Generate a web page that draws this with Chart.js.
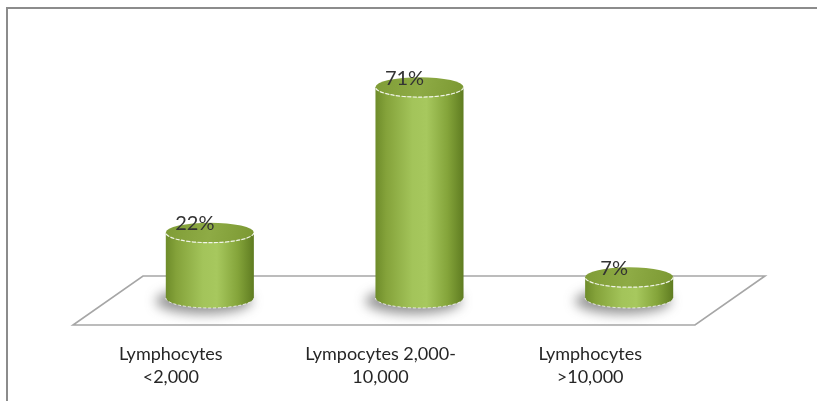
<!DOCTYPE html>
<html>
<head>
<meta charset="utf-8">
<script src="https://cdn.jsdelivr.net/npm/chart.js@4.4.1/dist/chart.umd.min.js"></script>
<style>
  html, body { margin: 0; padding: 0; background: #ffffff; }
  #wrap { width: 817px; height: 401px; }
</style>
</head>
<body>
<div id="wrap"><canvas id="chart" width="817" height="401"></canvas></div>
<script>
// Lymphocyte count groups and their share of patients (%)
const categories = [
  ['Lymphocytes', '<2,000'],
  ['Lympocytes 2,000-', '10,000'],
  ['Lymphocytes', '>10,000']
];
const percentages = [22, 71, 7];
const valueLabels = ['22%', '71%', '7%'];

// Oblique 3D look: the floor recedes up and to the right
const DEPTH_X = 70, DEPTH_Y = 49;     // full floor depth offset
const BASE_X = 39, BASE_Y = 27;       // where the cylinders stand on the floor
const CAP_RY = 10;                    // vertical radius of the cylinder ellipses
const FLOOR_INSET = 7;

const framePlugin = {
  id: 'frame',
  beforeDraw(chart) {
    const ctx = chart.ctx;
    ctx.save();
    ctx.strokeStyle = '#8c8c8c';
    ctx.lineWidth = 2;
    ctx.beginPath();
    ctx.moveTo(7, chart.height);
    ctx.lineTo(7, 8);
    ctx.lineTo(chart.width, 8);
    ctx.stroke();
    ctx.restore();
  }
};

const floorPlugin = {
  id: 'floor',
  beforeDatasetsDraw(chart) {
    const { ctx, chartArea: a } = chart;
    const y0 = chart.scales.y.getPixelForValue(0);
    ctx.save();
    ctx.beginPath();
    ctx.moveTo(a.left + FLOOR_INSET, y0);
    ctx.lineTo(a.right, y0);
    ctx.lineTo(a.right + DEPTH_X, y0 - DEPTH_Y);
    ctx.lineTo(a.left + FLOOR_INSET + DEPTH_X, y0 - DEPTH_Y);
    ctx.closePath();
    ctx.fillStyle = '#ffffff';
    ctx.fill();
    ctx.strokeStyle = '#a6a6a6';
    ctx.lineWidth = 1.6;
    ctx.stroke();
    ctx.restore();
  }
};

const cylinderPlugin = {
  id: 'cylinders',
  afterDatasetsDraw(chart) {
    const ctx = chart.ctx;
    const meta = chart.getDatasetMeta(0);
    meta.data.forEach((bar, i) => {
      const p = bar.getProps(['x', 'y', 'base', 'width'], true);
      const cx = p.x + BASE_X;
      const by = p.base - BASE_Y;
      const ty = p.y - BASE_Y;
      const rx = p.width / 2;
      const ry = CAP_RY;

      // soft shadow on the floor
      ctx.save();
      ctx.filter = 'blur(6px)';
      ctx.fillStyle = 'rgba(60,60,60,0.55)';
      ctx.beginPath();
      ctx.ellipse(cx - 6, by + 3, rx + 4, ry + 3, 0, 0, Math.PI * 2);
      ctx.fill();
      ctx.restore();

      // body
      ctx.save();
      const g = ctx.createLinearGradient(cx - rx, 0, cx + rx, 0);
      g.addColorStop(0, '#6e8c2a');
      g.addColorStop(0.12, '#84a23a');
      g.addColorStop(0.42, '#a3c45a');
      g.addColorStop(0.58, '#a7c85e');
      g.addColorStop(0.82, '#84a43a');
      g.addColorStop(1, '#5f7c21');
      ctx.beginPath();
      ctx.moveTo(cx - rx, ty);
      ctx.lineTo(cx - rx, by);
      ctx.ellipse(cx, by, rx, ry, 0, Math.PI, 0, true);
      ctx.lineTo(cx + rx, ty);
      ctx.ellipse(cx, ty, rx, ry, 0, 0, Math.PI, false);
      ctx.closePath();
      ctx.fillStyle = g;
      ctx.fill();

      // bottom rim highlight
      ctx.strokeStyle = 'rgba(255,255,255,0.75)';
      ctx.lineWidth = 1;
      ctx.setLineDash([3, 2]);
      ctx.beginPath();
      ctx.ellipse(cx, by, rx, ry, 0, Math.PI, 0, true);
      ctx.stroke();
      ctx.setLineDash([]);

      // top cap
      const tg = ctx.createLinearGradient(cx - rx, ty - ry, cx + rx, ty + ry);
      tg.addColorStop(0, '#7f9c36');
      tg.addColorStop(0.5, '#8eab45');
      tg.addColorStop(1, '#7b9832');
      ctx.beginPath();
      ctx.ellipse(cx, ty, rx, ry, 0, 0, Math.PI * 2);
      ctx.fillStyle = tg;
      ctx.fill();
      ctx.strokeStyle = 'rgba(255,255,255,0.85)';
      ctx.lineWidth = 1.2;
      ctx.setLineDash([4, 1.5]);
      ctx.beginPath();
      ctx.ellipse(cx, ty, rx, ry, 0, 0, Math.PI, false);
      ctx.stroke();
      ctx.setLineDash([]);
      ctx.restore();

      // value label
      ctx.save();
      ctx.font = '20px Lato';
      ctx.fillStyle = '#333333';
      ctx.textAlign = 'center';
      ctx.textBaseline = 'middle';
      ctx.fillText(valueLabels[i], cx - 15, ty - 9);
      ctx.restore();
    });
  }
};

new Chart(document.getElementById('chart'), {
  type: 'bar',
  data: {
    labels: categories,
    datasets: [{
      data: percentages,
      backgroundColor: 'rgba(0,0,0,0)',
      borderWidth: 0,
      barPercentage: 0.84,
      categoryPercentage: 0.5
    }]
  },
  options: {
    responsive: false,
    devicePixelRatio: 1,
    animation: false,
    layout: { padding: { left: 66, right: 122, top: 28, bottom: 0 } },
    plugins: {
      legend: { display: false },
      tooltip: { enabled: false },
      title: { display: false }
    },
    scales: {
      x: {
        type: 'category',
        offset: true,
        grid: { display: false, drawTicks: false },
        border: { display: false },
        ticks: {
          autoSkip: false,
          maxRotation: 0,
          minRotation: 0,
          padding: 18,
          color: '#262626',
          font: { family: 'Lato', size: 18, lineHeight: 1.28 }
        },
        afterFit(scale) { scale.height = 76; }
      },
      y: {
        display: false,
        min: 0,
        max: 100
      }
    }
  },
  plugins: [framePlugin, floorPlugin, cylinderPlugin]
});
</script>
</body>
</html>
